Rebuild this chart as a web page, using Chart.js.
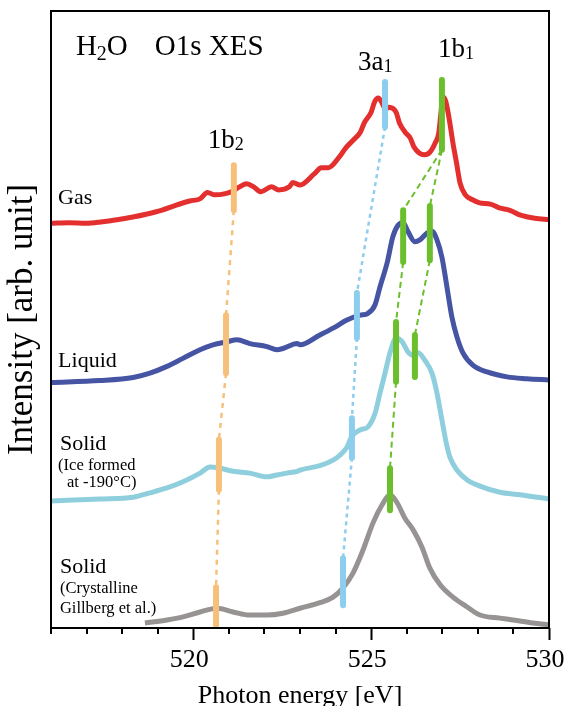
<!DOCTYPE html>
<html><head><meta charset="utf-8">
<script src="https://cdn.jsdelivr.net/npm/chart.js@4/dist/chart.umd.min.js"></script>
<style>html,body{margin:0;padding:0;background:#fff;}canvas{display:block;}</style>
</head><body>
<canvas id="c" width="567" height="706"></canvas>
<script>
// ---- data (photon energy in eV, intensity in arbitrary units incl. vertical offsets) ----
const gasEnergy = [516.0,516.5,517.0,517.4,517.9,518.3,518.7,519.1,519.5,519.9,520.2,520.4,520.6,520.9,521.1,521.3,521.5,521.7,521.9,522.2,522.4,522.7,522.8,523.0,523.4,523.6,523.8,524.1,524.3,524.5,524.7,524.8,525.0,525.1,525.2,525.3,525.4,525.5,525.7,525.8,525.95,526.1,526.2,526.35,526.5,526.65,526.8,526.9,526.95,527.02,527.1,527.2,527.3,527.4,527.5,527.65,527.85,528.05,528.35,528.6,528.9,529.2,529.6,530.0];
const gasIntensity = [65.6,65.7,65.6,65.8,66.2,66.6,67.1,67.7,68.5,69.2,69.6,70.6,70.2,70.4,70.8,71.5,72.0,71.5,70.7,71.5,71.0,71.5,72.2,71.8,73.6,74.6,74.6,76.3,77.9,79.1,80.4,81.8,83.6,85.3,85.9,85.2,84.1,84.4,83.6,81.8,80.4,79.4,78.0,77.0,76.7,77.1,78.6,80.2,82.8,86.1,85.3,82.3,78.6,75.4,72.1,70.2,69.4,68.9,68.7,68.1,67.7,66.9,66.4,66.2];

const liquidEnergy = [516.0,517.38,518.31,518.78,519.26,519.71,520.19,520.55,520.95,521.23,521.59,522.07,522.35,522.52,522.92,523.0,523.56,523.93,524.32,524.69,524.91,525.11,525.25,525.45,525.61,525.76,525.90,526.04,526.23,526.37,526.57,526.71,526.85,526.99,527.13,527.27,527.41,527.58,527.86,528.26,528.82,529.38,530.0];
const liquidIntensity = [39.8,40.1,40.6,41.3,42.4,43.7,45.1,45.9,46.4,46.7,46.1,45.6,45.1,45.3,46.1,45.9,47.5,48.6,49.9,50.7,51.0,52.4,55.3,59.2,63.4,65.3,65.7,64.2,62.6,62.9,64.0,64.3,62.9,60.1,55.3,50.4,47.2,44.6,42.6,41.5,40.7,40.4,40.2];

const iceEnergy = [516.0,517.38,518.31,518.78,519.26,519.71,520.19,520.47,520.75,521.12,521.59,522.07,522.35,522.63,522.92,523.0,523.56,523.93,524.12,524.32,524.46,524.69,524.91,525.11,525.25,525.39,525.53,525.70,525.87,526.04,526.18,526.32,526.51,526.71,526.85,526.99,527.13,527.22,527.41,527.70,528.06,528.62,529.19,530.0];
const iceIntensity = [20.6,20.9,21.2,21.9,22.7,23.7,25.1,26.1,25.9,25.4,25.1,24.5,24.8,25.1,25.4,25.6,26.3,27.2,28.0,29.3,31.1,32.1,32.6,34.8,38.1,41.3,44.6,47.0,46.4,44.7,44.2,44.6,43.4,41.3,38.1,33.7,29.5,27.6,25.6,24.0,23.0,22.0,21.6,20.9];

const crystalEnergy = [518.64,519.26,519.71,520.19,520.67,521.12,521.59,522.07,522.52,523.0,523.56,523.93,524.21,524.49,524.77,525.05,525.30,525.53,525.73,525.95,526.18,526.43,526.65,526.94,527.30,527.70,528.06,528.62,528.99,529.55,530.0];
const crystalIntensity = [0.8,1.3,1.8,2.6,3.2,2.6,2.1,2.1,2.4,3.2,4.1,5.0,6.5,8.9,12.6,17.0,19.9,21.6,20.3,17.8,15.9,13.1,9.7,7.0,5.0,3.4,2.1,1.6,1.3,0.8,0.5];

// peak assignment markers (energy, top, bottom) : order gas, liquid, ice, crystalline
const b2Energy = [521.14, 520.92, 520.72, 520.64];
const b2Top    = [75.0, 50.7, 30.5, 6.6];
const b2Bottom = [67.7, 41.3, 22.4, 0.5];
const a1Energy = [525.39, 524.60, 524.46, 524.21];
const a1Top    = [88.5, 54.3, 34.0, 11.3];
const a1Bottom = [81.2, 47.0, 27.6, 3.7];
const b1Energy = [526.99, 525.90, 526.65, 525.70, 526.23, 525.53];
const b1Top    = [88.8, 67.7, 68.4, 49.6, 47.5, 25.9];
const b1Bottom = [77.5, 59.3, 59.6, 39.9, 40.7, 19.1];
// connectors: [from marker (bottom), to marker (top)]
const b2Links = [[0,1],[1,2],[2,3]];
const a1Links = [[0,1],[1,2],[2,3]];
const b1Links = [[0,1],[0,2],[1,3],[2,4],[3,5]];

const xMin = 516, xMax = 530;
const tickLabels = [520, 525, 530];

// ---- styles ----
const FONT = '"Liberation Serif", "Times New Roman", serif';
const colGas = '#e3302f', colLiquid = '#4654a4', colIce = '#8fcfdd', colCrystal = '#979393';
const colB2 = '#f7c07a', colA1 = '#8dcdee', colB1 = '#6cbf2c';

const xy = (es, vs) => es.map((e, i) => ({x: e, y: vs[i]}));
const datasets = [];
function addMarkers(E, T, B, color) {
  E.forEach((e, i) => datasets.push({data: [{x: e, y: T[i]}, {x: e, y: B[i]}], borderColor: color, borderWidth: 6,
    borderCapStyle: 'round', pointRadius: 0, order: 0}));
}
function addLinks(E, T, B, links, color, dash, w) {
  links.forEach(([a, b]) => datasets.push({data: [{x: E[a], y: B[a]}, {x: E[b], y: T[b]}], borderColor: color, borderWidth: w,
    borderDash: dash, pointRadius: 0, order: 2}));
}
addMarkers(b2Energy, b2Top, b2Bottom, colB2);
addMarkers(a1Energy, a1Top, a1Bottom, colA1);
addMarkers(b1Energy, b1Top, b1Bottom, colB1);
[[gasEnergy, gasIntensity, colGas], [liquidEnergy, liquidIntensity, colLiquid], [iceEnergy, iceIntensity, colIce], [crystalEnergy, crystalIntensity, colCrystal]]
  .forEach(([e, v, c]) => datasets.push({data: xy(e, v), borderColor: c, borderWidth: 5, pointRadius: 0,
    cubicInterpolationMode: 'monotone', borderJoinStyle: 'round', order: 1}));
addLinks(b2Energy, b2Top, b2Bottom, b2Links, colB2, [5, 5], 2.5);
addLinks(a1Energy, a1Top, a1Bottom, a1Links, colA1, [4, 4], 2.5);
addLinks(b1Energy, b1Top, b1Bottom, b1Links, colB1, [6, 4], 2);

// annotation texts (data coordinates, left aligned, baseline)
const sampleLabels = [
  {t: 'Gas', e: 516.2, v: 68.7, s: 22},
  {t: 'Liquid', e: 516.2, v: 42.3, s: 22},
  {t: 'Solid', e: 516.25, v: 28.8, s: 22},
  {t: '(Ice formed', e: 516.2, v: 25.6, s: 16.5},
  {t: 'at -190°C)', e: 516.45, v: 22.9, s: 16.5},
  {t: 'Solid', e: 516.25, v: 8.9, s: 22},
  {t: '(Crystalline', e: 516.25, v: 5.7, s: 16.5},
  {t: 'Gillberg et al.)', e: 516.25, v: 2.4, s: 16.5}
];
const orbitalLabels = [
  {m: '1b', sub: '2', e: 520.41, v: 77.8},
  {m: '3a', sub: '1', e: 524.63, v: 90.4},
  {m: '1b', sub: '1', e: 526.88, v: 92.5}
];

const annotPlugin = {
  id: 'annot',
  afterDatasetsDraw(chart) {
    const {ctx, chartArea: a, scales: {x, y}} = chart;
    ctx.save();
    ctx.fillStyle = '#000';
    ctx.textBaseline = 'alphabetic';
    ctx.textAlign = 'left';
    sampleLabels.forEach(l => {
      ctx.font = `${l.s}px ${FONT}`;
      ctx.fillText(l.t, x.getPixelForValue(l.e), y.getPixelForValue(l.v));
    });
    orbitalLabels.forEach(l => {
      const px = x.getPixelForValue(l.e), py = y.getPixelForValue(l.v);
      ctx.font = `27px ${FONT}`;
      ctx.fillText(l.m, px, py);
      const w = ctx.measureText(l.m).width;
      ctx.font = `18px ${FONT}`;
      ctx.fillText(l.sub, px + w, py + 2);
    });
    // title
    let tx = x.getPixelForValue(516.7), ty = y.getPixelForValue(92.9);
    ctx.font = `29px ${FONT}`;
    ctx.fillText('H', tx, ty); tx += ctx.measureText('H').width;
    ctx.font = `20px ${FONT}`;
    ctx.fillText('2', tx, ty + 5); tx += ctx.measureText('2').width;
    ctx.font = `29px ${FONT}`;
    ctx.fillText('O', tx, ty);
    ctx.fillText('O1s XES', x.getPixelForValue(518.92), ty);
    // frame
    ctx.strokeStyle = '#000'; ctx.lineWidth = 2;
    ctx.strokeRect(a.left, a.top, a.right - a.left, a.bottom - a.top);
    // minor ticks
    for (let v = xMin; v <= xMax; v++) {
      if (tickLabels.includes(v)) continue;
      const px = Math.round(x.getPixelForValue(v));
      ctx.beginPath(); ctx.moveTo(px, a.bottom); ctx.lineTo(px, a.bottom + 6); ctx.stroke();
    }
    ctx.restore();
  }
};

new Chart(document.getElementById('c').getContext('2d'), {
  type: 'line',
  data: {datasets},
  options: {
    responsive: false, animation: false, devicePixelRatio: 1,
    layout: {padding: {left: 0, right: 18, top: 11, bottom: 0}},
    plugins: {legend: {display: false}, tooltip: {enabled: false}},
    scales: {
      x: {
        type: 'linear', min: xMin, max: xMax, position: 'bottom',
        afterFit: s => { s.height = 78; s.paddingLeft = 0; s.paddingRight = 0; },
        border: {display: false},
        grid: {drawOnChartArea: false, tickLength: 12, tickWidth: 2,
          tickColor: c => (c.tick && tickLabels.includes(c.tick.value)) ? '#000' : 'rgba(0,0,0,0)'},
        ticks: {stepSize: 1, autoSkip: false, maxRotation: 0, padding: 5, labelOffset: -4, color: '#000',
          font: {family: FONT, size: 26}, callback: v => tickLabels.includes(v) ? String(v) : ''},
        title: {display: true, text: 'Photon energy [eV]', color: '#000', font: {family: FONT, size: 26, lineHeight: 0.77}, padding: 0}
      },
      y: {
        min: 0, max: 100,
        afterFit: s => { s.width = 51; },
        ticks: {display: false}, grid: {display: false}, border: {display: false},
        title: {display: true, text: 'Intensity [arb. unit]', color: '#000', font: {family: FONT, size: 35, lineHeight: 1.1}, padding: {top: 4, bottom: 0}}
      }
    }
  },
  plugins: [annotPlugin]
});
</script>
</body></html>
